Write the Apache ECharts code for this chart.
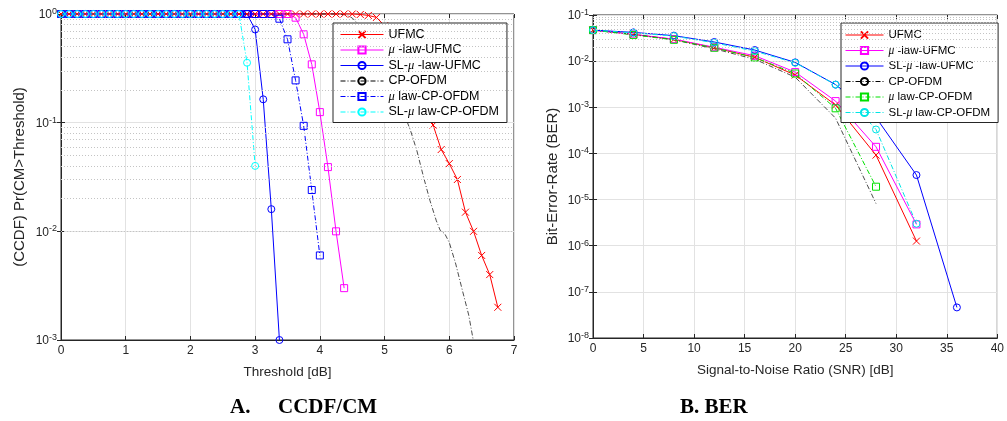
<!DOCTYPE html>
<html><head><meta charset="utf-8">
<script src="https://cdn.jsdelivr.net/npm/echarts@6/dist/echarts.min.js"></script>
<style>html,body{margin:0;padding:0;background:#fff}#c{width:1007px;height:421px}</style>
</head><body><div id="c"></div><script>
// ---------- data: (A) CCDF / CM ----------
const seriesNames = ['UFMC', 'μ -law-UFMC', 'SL-μ -law-UFMC', 'CP-OFDM', 'μ law-CP-OFDM', 'SL-μ law-CP-OFDM'];
const thresholdDb = [0,0.125,0.25,0.375,0.5,0.625,0.75,0.875,1,1.125,1.25,1.375,1.5,1.625,1.75,1.875,2,2.125,2.25,2.375,2.5,2.625,2.75,2.875,3,3.125,3.25,3.375,3.5,3.625,3.75,3.875,4,4.125,4.25,4.375,4.5,4.625,4.75,4.875,5,5.125,5.25,5.375,5.5,5.625,5.75,5.875,6,6.125,6.25,6.375,6.5,6.625,6.75];
const ccdfUfmc = [1,1,1,1,1,1,1,1,1,1, 1,1,1,1,1,1,1,1,1,1, 1,1,1,1,1,1,1,1,1,1, 1,1,1,1,1,1,1,
  0.99,0.97,0.93,0.78,0.6,0.45,0.33,0.23,0.15,0.095,0.0566,0.042,0.030,0.015,0.010,0.006,0.004,0.002];
const ccdfMuUfmc = [1,1,1,1,1,1,1,1,1,1, 1,1,1,1,1,1,1,1,1,1, 1,1,1,1,1,1,1,1,1,
  0.925,0.65,0.344,0.125,0.039,0.01,0.003];
const ccdfSlMuUfmc = [1,1,1,1,1,1,1,1,1,1, 1,1,1,1,1,1,1,1,1,1, 1,1,1,1,
  0.72,0.164,0.016,0.001];
const ccdfCpOfdmX = [0,4.3,4.4,4.5,4.6,4.7,4.8,4.9,5.0,5.1,5.2,5.3,5.34,5.4,5.5,5.6,5.7,5.8,5.86,5.93,6.0,6.1,6.2,6.3,6.37];
const ccdfCpOfdmY = [1,1,0.98,0.92,0.8,0.65,0.5,0.38,0.28,0.2,0.15,0.115,0.105,0.085,0.055,0.032,0.0193,0.0125,0.0102,0.0095,0.0079,0.005,0.0029,0.0017,0.001];
const ccdfMuCpOfdm = [1,1,1,1,1,1,1,1,1,1, 1,1,1,1,1,1,1,1,1,1, 1,1,1,1,1,1,1,
  0.905,0.585,0.245,0.0935,0.024,0.006];
const ccdfSlMuCpOfdm = [1,1,1,1,1,1,1,1,1,1, 1,1,1,1,1,1,1,1,1,1, 1,1,1,
  0.356,0.040];

// ---------- data: (B) BER ----------
const snrDb = [0,4,8,12,16,20,24,28,32,36];
const berUfmc = [0.047,0.038,0.0296,0.0195,0.0121,0.0050,0.00112,9.2e-5,1.26e-6];
const berMuUfmc = [0.047,0.038,0.030,0.020,0.0131,0.0058,0.00136,1.39e-4,2.9e-6];
const berSlMuUfmc = [0.047,0.042,0.0357,0.026,0.0174,0.0094,0.0031,6.0e-4,3.4e-5,4.6e-8];
const berCpOfdm = [0.047,0.038,0.029,0.0185,0.011,0.0045,0.00058,8.2e-6];
const berMuCpOfdm = [0.047,0.037,0.029,0.0195,0.0120,0.0054,0.00095,1.9e-5];
const berSlMuCpOfdm = [0.047,0.041,0.035,0.025,0.0165,0.0092,0.0031,3.3e-4,3.0e-6];

const xLabelsA = {name: 'Threshold [dB]', min: 0, max: 7, interval: 1};
const xLabelsB = {name: 'Signal-to-Noise Ratio (SNR) [dB]', min: 0, max: 40, interval: 5};
const yNameA = '(CCDF) Pr(CM>Threshold)';
const yNameB = 'Bit-Error-Rate (BER)';
const captions = ['A.', 'CCDF/CM', 'B. BER'];

// ---------- helpers ----------
const pair = (xs, ys) => ys.map((v, i) => [xs[i], v]);
const FONT = 'Liberation Sans';
const AX = '#262626';
const X_SYM = 'path://M0,0L10,10M10,0L0,10';
const dashDot = [5, 2, 1, 2];

function minorVals(lo, hi) {
  const out = [];
  for (let e = lo; e < hi; e++) for (let k = 2; k <= 9; k++) out.push(k * Math.pow(10, e));
  return out;
}
function supFmt(v) {
  const e = Math.round(Math.log10(v));
  return '{b|10}{s|' + e + '}';
}
const supRich = {
  b: {fontSize: 12, fontFamily: FONT, color: AX, lineHeight: 14, verticalAlign: 'bottom'},
  s: {fontSize: 9, fontFamily: FONT, color: AX, lineHeight: 14, verticalAlign: 'bottom', padding: [0, 0, 5, 0]}
};
function legendFmt(name) {
  const n = name.replace('|B', '');
  return n.replace(/μ/g, '{i|μ}');
}

function mkSeries(name, data, color, symbol, line, xi, extra) {
  return Object.assign({
    type: 'line', name: name, data: data, xAxisIndex: xi, yAxisIndex: xi,
    symbol: symbol, symbolSize: symbol === 'none' ? 0 : 7, showSymbol: symbol !== 'none',
    clip: false, z: 3,
    lineStyle: {color: color, width: 1, type: line},
    itemStyle: {color: 'rgba(0,0,0,0)', borderColor: color, borderWidth: 1},
    emphasis: {disabled: true}, animation: false
  }, extra || {});
}
function minorSeries(xi, vals) {
  return {
    type: 'line', name: 'minor' + xi, data: [], xAxisIndex: xi, yAxisIndex: xi, z: 1, silent: true,
    markLine: {silent: true, symbol: ['none', 'none'], animation: false, label: {show: false},
      lineStyle: {type: [1, 2], color: '#c4c4c4', width: 1},
      emphasis: {disabled: true},
      data: vals.map(v => ({yAxis: v}))}
  };
}

const grids = [
  {left: 61, top: 14, width: 453, height: 326, show: true, borderColor: AX, borderWidth: 1, backgroundColor: 'transparent'},
  {left: 593, top: 15, width: 409, height: 323, show: true, borderColor: AX, borderWidth: 1, backgroundColor: 'transparent'}
];
function xAx(gi, cfg) {
  return {type: 'value', gridIndex: gi, min: cfg.min, max: cfg.max, interval: cfg.interval,
    name: cfg.name, nameLocation: 'middle', nameGap: 25,
    nameTextStyle: {fontFamily: FONT, fontSize: 13.5, color: AX},
    axisLine: {show: true, lineStyle: {color: AX, width: 1}},
    axisTick: {show: true, inside: true, length: 4, lineStyle: {color: AX}},
    axisLabel: {fontFamily: FONT, fontSize: 12, color: AX, margin: 5},
    splitLine: {show: true, lineStyle: {color: '#e2e2e2', width: 1}}};
}
function xTop(gi, cfg) {
  return {type: 'value', gridIndex: gi, min: cfg.min, max: cfg.max, interval: cfg.interval, position: 'top',
    axisLine: {show: false}, axisTick: {show: true, inside: true, length: 4, lineStyle: {color: AX}},
    axisLabel: {show: false}, splitLine: {show: false}};
}
function yAx(gi, min, max, name, gap) {
  return {type: 'log', logBase: 10, gridIndex: gi, min: min, max: max, splitNumber: 10,
    name: name, nameLocation: 'middle', nameGap: gap,
    nameTextStyle: {fontFamily: FONT, fontSize: 15, color: AX},
    axisLine: {show: true, lineStyle: {color: AX, width: 1}},
    axisTick: {show: true, inside: true, length: 4, lineStyle: {color: AX}},
    axisLabel: {formatter: supFmt, rich: supRich, margin: 4},
    splitLine: {show: true, lineStyle: {color: '#e2e2e2', width: 1}}};
}
function yRight(gi, min, max) {
  return {type: 'log', logBase: 10, gridIndex: gi, min: min, max: max, splitNumber: 10, position: 'right',
    axisLine: {show: false}, axisTick: {show: true, inside: true, length: 4, lineStyle: {color: AX}},
    axisLabel: {show: false}, splitLine: {show: false}};
}

const namesB = seriesNames.map(n => n + '|B');
function legendCfg(fs, extra) {
  return Object.assign({
    orient: 'vertical', itemHeight: 9, padding: [5, 8, 4, 7],
    backgroundColor: '#fff', borderColor: AX, borderWidth: 1, borderRadius: 0, selectedMode: false,
    formatter: legendFmt, lineStyle: {width: 1},
    textStyle: {fontFamily: FONT, fontSize: fs, color: '#000',
      rich: {i: {fontStyle: 'italic', fontFamily: 'Liberation Serif', fontSize: fs, color: '#000'}}}
  }, extra);
}

const option = {
  animation: false,
  backgroundColor: '#fff',
  grid: grids,
  xAxis: [xAx(0, xLabelsA), xAx(1, xLabelsB), xTop(0, xLabelsA), xTop(1, xLabelsB)],
  yAxis: [yAx(0, 0.001, 1, yNameA, 34), yAx(1, 1e-8, 0.1, yNameB, 33), yRight(0, 0.001, 1), yRight(1, 1e-8, 0.1)],
  legend: [
    legendCfg(12.5, {data: seriesNames, left: 333, top: 23, itemWidth: 43, itemGap: 2.5}),
    legendCfg(11.5, {data: namesB, left: 841, top: 23, itemWidth: 38, itemGap: 3.5, padding: [6, 8, 4, 4]})
  ],
  graphic: [
    {type: 'text', left: 230, top: 397, style: {text: captions[0], font: 'bold 21px "Liberation Serif"', fill: '#000'}},
    {type: 'text', left: 278, top: 397, style: {text: captions[1], font: 'bold 21px "Liberation Serif"', fill: '#000'}},
    {type: 'text', left: 680, top: 397, style: {text: captions[2], font: 'bold 21px "Liberation Serif"', fill: '#000'}}
  ],
  series: [
    minorSeries(0, minorVals(-3, 0)),
    minorSeries(1, minorVals(-8, -1)),
    mkSeries(seriesNames[0], pair(thresholdDb, ccdfUfmc), '#ff0000', X_SYM, 'solid', 0),
    mkSeries(seriesNames[1], pair(thresholdDb, ccdfMuUfmc), '#ff00ff', 'rect', 'solid', 0),
    mkSeries(seriesNames[2], pair(thresholdDb, ccdfSlMuUfmc), '#0000ff', 'circle', 'solid', 0),
    mkSeries(seriesNames[3], pair(ccdfCpOfdmX, ccdfCpOfdmY), '#000000', 'none', dashDot, 0, {lineStyle: {color: '#000', width: 0.7, type: dashDot}}),
    mkSeries(seriesNames[4], pair(thresholdDb, ccdfMuCpOfdm), '#0000ff', 'rect', dashDot, 0),
    mkSeries(seriesNames[5], pair(thresholdDb, ccdfSlMuCpOfdm), '#00ffff', 'circle', dashDot, 0),
    mkSeries(namesB[0], pair(snrDb, berUfmc), '#ff0000', X_SYM, 'solid', 1),
    mkSeries(namesB[1], pair(snrDb, berMuUfmc), '#ff00ff', 'rect', 'solid', 1),
    mkSeries(namesB[2], pair(snrDb, berSlMuUfmc), '#0000ff', 'circle', 'solid', 1),
    mkSeries(namesB[3], pair(snrDb, berCpOfdm), '#000000', 'none', dashDot, 1, {lineStyle: {color: '#000', width: 0.7, type: dashDot}}),
    mkSeries(namesB[4], pair(snrDb, berMuCpOfdm), '#00e000', 'rect', dashDot, 1),
    mkSeries(namesB[5], pair(snrDb, berSlMuCpOfdm), '#00e5e5', 'circle', dashDot, 1)
  ]
};
const chart = echarts.init(document.getElementById('c'), null, {renderer: 'canvas'});
chart.setOption(option);
</script></body></html>
